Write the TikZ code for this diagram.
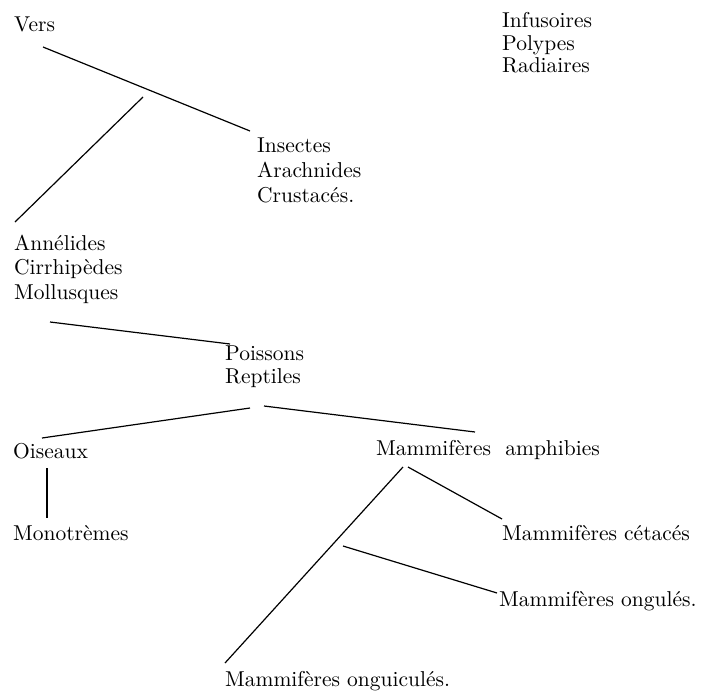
\documentclass[tikz,border=0pt]{standalone}
\usepackage{fontspec}
\setmainfont{lmroman10-regular}[Extension=.otf]
\usepackage{tikz}
\usetikzlibrary{positioning}

\begin{document}
\begin{tikzpicture}[x=1pt,y=-1pt,
  lbl/.style={inner sep=0pt,anchor=base west,font=\fontsize{21.5}{25}\selectfont},
  ln/.style={line width=1.2pt}]
  \useasboundingbox (0,0) rectangle (717,693);
  % groups
  \node[lbl] (vers) at (14,32) {Vers};
  \node[lbl] (inf) at (502,28) {Infusoires};
  \node[lbl,below=22.5pt of inf.base west,anchor=base west] (pol) {Polypes};
  \node[lbl,below=22.5pt of pol.base west,anchor=base west] (rad) {Radiaires};
  \node[lbl] (ins) at (257,152) {Insectes};
  \node[lbl,below=25pt of ins.base west,anchor=base west] (ara) {Arachnides};
  \node[lbl,below=25pt of ara.base west,anchor=base west] (cru) {Crustacés.};
  \node[lbl] (ann) at (14,250) {Annélides};
  \node[lbl,below=24.5pt of ann.base west,anchor=base west] (cir) {Cirrhipèdes};
  \node[lbl,below=24.5pt of cir.base west,anchor=base west] (mol) {Mollusques};
  \node[lbl] (poi) at (225,360) {Poissons};
  \node[lbl,below=23pt of poi.base west,anchor=base west] (rep) {Reptiles};
  \node[lbl] (ois) at (13,458) {Oiseaux};
  \node[lbl] (amp) at (376,455) {Mammifères\ \ amphibies};
  \node[lbl] (mon) at (13,540) {Monotrèmes};
  \node[lbl] (cet) at (502,540) {Mammifères cétacés};
  \node[lbl] (ong) at (499,606) {Mammifères ongulés.};
  \node[lbl] (ongc) at (225,686) {Mammifères onguiculés.};
  % lines
  \draw[ln] ([shift={(29,15)}]vers.base west) -- ([shift={(-7,-21)}]ins.base west);
  \draw[ln] ([shift={(129,65)}]vers.base west) -- ([shift={(1,-28)}]ann.base west);
  \draw[ln] ([shift={(36,23)}]mol.base west) -- ([shift={(5,-16)}]poi.base west);
  \draw[ln] ([shift={(25,25)}]rep.base west) -- ([shift={(29,-20)}]ois.base west);
  \draw[ln] ([shift={(39,23)}]rep.base west) -- ([shift={(99,-23)}]amp.base west);
  \draw[ln] ([shift={(34,10)}]ois.base west) -- ([shift={(34,-22)}]mon.base west);
  \draw[ln] ([shift={(27,12)}]amp.base west) -- ([shift={(0,-23)}]ongc.base west);
  \draw[ln] ([shift={(32,12)}]amp.base west) -- ([shift={(0,-21)}]cet.base west);
  \draw[ln] ([shift={(-156,-60)}]ong.base west) -- ([shift={(-2,-13)}]ong.base west);
\end{tikzpicture}
\end{document}
